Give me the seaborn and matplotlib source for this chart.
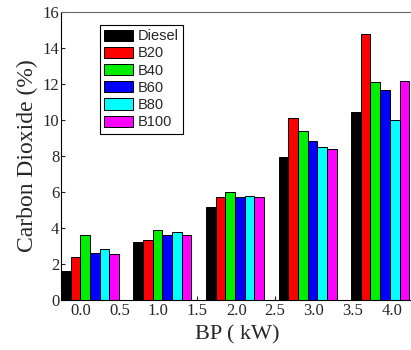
import matplotlib
matplotlib.use("Agg")
import matplotlib.pyplot as plt
import seaborn as sns
import pandas as pd

# Data
bp_groups = ["0", "1", "2", "3", "4"]
fuels = ["Diesel", "B20", "B40", "B60", "B80", "B100"]
diesel = [1.63, 3.20, 5.15, 7.96, 10.43]
b20 = [2.37, 3.33, 5.74, 10.09, 14.78]
b40 = [3.63, 3.91, 6.02, 9.41, 12.09]
b60 = [2.59, 3.63, 5.70, 8.81, 11.65]
b80 = [2.83, 3.80, 5.78, 8.52, 10.00]
b100 = [2.56, 3.59, 5.74, 8.39, 12.18]
colors = ["#000000", "#ff0000", "#00ee00", "#0000ff", "#00ffff", "#ff00ff"]
x_ticks = [0.0, 0.5, 1.0, 1.5, 2.0, 2.5, 3.0, 3.5, 4.0]
y_ticks = [0, 2, 4, 6, 8, 10, 12, 14, 16]

rows = []
for fuel, vals in zip(fuels, [diesel, b20, b40, b60, b80, b100]):
    for g, v in zip(bp_groups, vals):
        rows.append({"BP": g, "CO2": v, "Fuel": fuel})
df = pd.DataFrame(rows)

sns.set_style("ticks")
fig = plt.figure(figsize=(4.11, 3.5), dpi=100)
ax = fig.add_axes([0.148, 0.143, 0.86, 0.823])

sns.barplot(data=df, x="BP", y="CO2", hue="Fuel", palette=colors, saturation=1,
            width=0.8, edgecolor="black", linewidth=0.7, ax=ax)

# the kW scale is offset from the bar groups in the original chart
ax.set_xlim(-0.4, 4.47)
ax.set_xticks([(t - 0.12) / 0.9325 for t in x_ticks])
ax.set_xticklabels([f"{t:.1f}" for t in x_ticks], family="Liberation Serif", fontsize=12)
ax.set_ylim(0, 16)
ax.set_yticks(y_ticks)
ax.set_yticklabels([str(t) for t in y_ticks], family="Liberation Serif", fontsize=12)
ax.tick_params(axis="both", direction="in", length=3, pad=2)
ax.tick_params(axis="y", pad=1)

ax.set_xlabel("BP ( kW)", family="Liberation Serif", fontsize=16, labelpad=5)
ax.set_ylabel("Carbon Dioxide (%)", family="Liberation Serif", fontsize=17, labelpad=3)

ax.spines["right"].set_visible(False)
ax.spines["top"].set_color("#666666")
ax.spines["left"].set_color("black")
ax.spines["bottom"].set_color("black")

leg = ax.legend(loc="upper left", bbox_to_anchor=(0.11, 0.955), frameon=True,
                fancybox=False, edgecolor="black", framealpha=1,
                prop={"family": "Liberation Sans", "size": 10.5},
                handlelength=2.0, handleheight=0.8, handletextpad=0.3,
                labelspacing=0.22, borderpad=0.3, borderaxespad=0)
leg.get_frame().set_linewidth(0.8)

fig.savefig("out.png", dpi=100)
